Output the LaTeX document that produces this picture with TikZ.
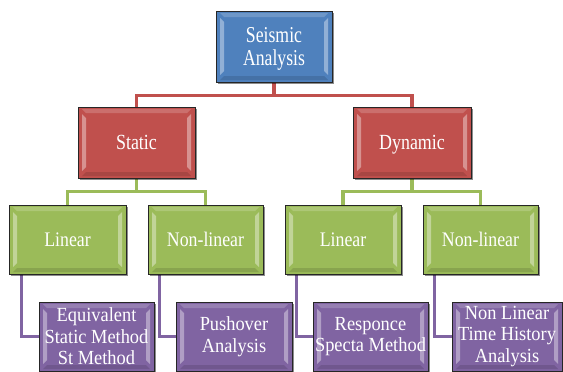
\documentclass[tikz,border=0pt]{standalone}
\usepackage{fontspec}
\setmainfont{Liberation Serif}
% narrowed serif cuts, one per tree level
\newfontfamily\serifA[FakeStretch=0.78]{Liberation Serif}
\newfontfamily\serifB[FakeStretch=0.83]{Liberation Serif}
\newfontfamily\serifC[FakeStretch=0.86]{Liberation Serif}
\newfontfamily\serifD[FakeStretch=0.92]{Liberation Serif}
\usetikzlibrary{shadows,backgrounds}

\definecolor{hblue}{HTML}{4F81BD}
\definecolor{hred}{HTML}{C0504D}
\definecolor{hgreen}{HTML}{9BBB59}
\definecolor{hpurple}{HTML}{8064A2}
\definecolor{rim}{HTML}{262626}

\tikzset{
  box/.style={
    rectangle, draw=rim, line width=0.9pt, fill=#1,
    minimum width=116pt, minimum height=70pt, inner sep=0pt,
    text=white, align=center,
    drop shadow={shadow xshift=1.8pt, shadow yshift=-1.8pt, fill=black, opacity=0.45},
    path picture={
      % bevel highlights along the inner edges
      \fill[white, opacity=0.38]
        ([xshift=4pt,yshift=-7pt]path picture bounding box.north west) --
        ([xshift=8pt,yshift=-11pt]path picture bounding box.north west) --
        ([xshift=8pt,yshift=11pt]path picture bounding box.south west) --
        ([xshift=4pt,yshift=7pt]path picture bounding box.south west) -- cycle;
      \fill[white, opacity=0.38]
        ([xshift=-4pt,yshift=-7pt]path picture bounding box.north east) --
        ([xshift=-8pt,yshift=-11pt]path picture bounding box.north east) --
        ([xshift=-8pt,yshift=11pt]path picture bounding box.south east) --
        ([xshift=-4pt,yshift=7pt]path picture bounding box.south east) -- cycle;
      \fill[white, opacity=0.18]
        ([xshift=4pt,yshift=-2pt]path picture bounding box.north west) --
        ([xshift=-4pt,yshift=-2pt]path picture bounding box.north east) --
        ([xshift=-8pt,yshift=-6pt]path picture bounding box.north east) --
        ([xshift=8pt,yshift=-6pt]path picture bounding box.north west) -- cycle;
      \fill[black, opacity=0.12]
        ([xshift=4pt,yshift=2pt]path picture bounding box.south west) --
        ([xshift=-4pt,yshift=2pt]path picture bounding box.south east) --
        ([xshift=-8pt,yshift=6pt]path picture bounding box.south east) --
        ([xshift=8pt,yshift=6pt]path picture bounding box.south west) -- cycle;
    }
  },
  lvlA/.style={box=hblue,   font=\serifA\fontsize{22.7}{22.5}\selectfont, text depth=0pt},
  lvlB/.style={box=hred,    font=\serifB\fontsize{21.6}{22}\selectfont, text height=14.3pt, text depth=0pt},
  lvlC/.style={box=hgreen,  font=\serifC\fontsize{20.7}{22}\selectfont, text height=13.7pt, text depth=0pt},
  lvlD/.style={box=hpurple, font=\serifD\fontsize{20}{21.5}\selectfont},
  link/.style={draw=#1, line width=3.5pt}
}

\begin{document}
\begin{tikzpicture}[x=1pt, y=-1pt]
  \useasboundingbox (0,0) rectangle (563,372);

  % level 0
  \node[lvlA, minimum width=116pt, minimum height=71pt] (root) at (274,46.5) {Seismic\\Analysis};

  % level 1
  \node[lvlB, minimum width=117pt, minimum height=71pt] (static) at (136.5,142.5) {Static};
  \node[lvlB, minimum width=118pt, minimum height=71pt] (dynamic) at (412,142.5) {Dynamic};

  % level 2
  \node[lvlC, minimum width=117pt, minimum height=69pt] (slin) at (67.5,239.5) {Linear};
  \node[lvlC, minimum width=115pt, minimum height=69pt] (snon) at (205.5,239.5) {Non-linear};
  \node[lvlC, minimum width=116pt, minimum height=69pt] (dlin) at (343,239.5) {Linear};
  \node[lvlC, minimum width=115pt, minimum height=69pt] (dnon) at (480.5,239.5) {Non-linear};

  % level 3
  \node[lvlD, minimum width=115pt, minimum height=69pt] (esm) at (96.5,336.5) {Equivalent\\Static Method\\St Method};
  \node[lvlD, minimum width=116pt, minimum height=69pt] (push) at (234,336.5) {Pushover\\Analysis};
  \node[lvlD, minimum width=115pt, minimum height=69pt] (rsm) at (370.5,336.5) {Responce\\Specta Method};
  \node[lvlD, minimum width=110pt, minimum height=69pt] (nlth) at (507,336.5) {Non Linear\\Time History\\Analysis};

  % connectors sit behind the boxes
  \begin{scope}[on background layer]
    % red tree
    \draw[link=hred] (root.south) -- ++(0,13) -| (static.north);
    \draw[link=hred] (root.south) -- ++(0,13) -| (dynamic.north);
    % green tree
    \draw[link=hgreen] (static.south) -- ++(0,13) -| (slin.north);
    \draw[link=hgreen] (static.south) -- ++(0,13) -| (snon.north);
    \draw[link=hgreen] (dynamic.south) -- ++(0,13) -| (dlin.north);
    \draw[link=hgreen] (dynamic.south) -- ++(0,13) -| (dnon.north);
    % purple branches
    \draw[link=hpurple] ([xshift=13pt]slin.south west) |- (esm.west);
    \draw[link=hpurple] ([xshift=12pt]snon.south west) |- (push.west);
    \draw[link=hpurple] ([xshift=12pt]dlin.south west) |- (rsm.west);
    \draw[link=hpurple] ([xshift=12pt]dnon.south west) |- (nlth.west);
  \end{scope}
\end{tikzpicture}
\end{document}
